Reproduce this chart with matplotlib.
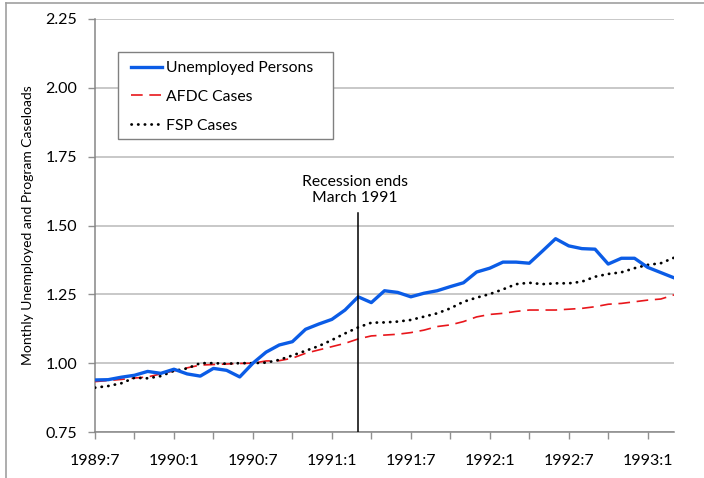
import matplotlib
matplotlib.use("Agg")
from matplotlib import pyplot as plt
from matplotlib.lines import Line2D
from matplotlib.patches import Rectangle
import numpy as np

plt.rcParams['font.family'] = ['Lato', 'DejaVu Sans']

# monthly series, 1989:7 .. 1993:3 (index 0 = 1989:7)
unemployed = [0.939, 0.940, 0.949, 0.956, 0.970, 0.963, 0.978, 0.961, 0.953, 0.981,
              0.974, 0.950, 1.000, 1.040, 1.066, 1.078, 1.123, 1.142, 1.159, 1.193,
              1.241, 1.220, 1.263, 1.257, 1.241, 1.254, 1.263, 1.278, 1.292, 1.331,
              1.345, 1.367, 1.367, 1.363, 1.407, 1.452, 1.426, 1.416, 1.414, 1.360,
              1.381, 1.381, 1.348, 1.329, 1.310]
afdc = [0.933, 0.937, 0.941, 0.946, 0.950, 0.961, 0.972, 0.983, 0.993, 0.995,
        0.997, 0.999, 1.000, 1.008, 1.009, 1.018, 1.036, 1.048, 1.060, 1.072,
        1.088, 1.099, 1.102, 1.105, 1.111, 1.120, 1.133, 1.139, 1.151, 1.168,
        1.177, 1.181, 1.188, 1.193, 1.193, 1.193, 1.196, 1.199, 1.205, 1.214,
        1.217, 1.223, 1.229, 1.233, 1.248]
fsp = [0.911, 0.917, 0.927, 0.947, 0.945, 0.953, 0.972, 0.981, 1.000, 1.000,
       0.998, 1.000, 1.000, 1.002, 1.012, 1.028, 1.045, 1.062, 1.084, 1.108,
       1.130, 1.147, 1.148, 1.151, 1.157, 1.169, 1.181, 1.199, 1.223, 1.238,
       1.251, 1.268, 1.287, 1.292, 1.287, 1.290, 1.290, 1.296, 1.314, 1.324,
       1.330, 1.345, 1.357, 1.363, 1.383]

tick_months = list(range(0, 45, 3))
tick_labels = ["1989:7", "", "1990:1", "", "1990:7", "", "1991:1", "", "1991:7", "",
               "1992:1", "", "1992:7", "", "1993:1"]
recession_end = 20  # 1991:3

months = np.arange(len(unemployed))

W, H = 704, 478
fig = plt.figure(figsize=(W/100, H/100), dpi=100)
ax = fig.add_axes([95/W, 46/H, 579/W, 413/H])

ax.plot(months, unemployed, color='#0b5ce6', lw=2.4, label="Unemployed Persons", zorder=4)
ax.plot(months, afdc, color='#e8161b', lw=1.2, dashes=(7, 4), label="AFDC Cases", zorder=3)
ax.plot(months, fsp, color='black', lw=2.0, linestyle=(0, (0.1, 2.3)),
        dash_capstyle='round', label="FSP Cases", zorder=3)

ax.plot([recession_end, recession_end], [0.75, 1.545], color='black', lw=1.1, zorder=5)
ax.text(recession_end - 0.25, 1.63, "Recession ends\nMarch 1991", ha='center', va='center',
        fontsize=11.3, linespacing=1.15)

ax.set_xlim(0, 44)
ax.set_ylim(0.75, 2.25)
ax.set_yticks(np.arange(0.75, 2.26, 0.25))
ax.set_yticklabels(["%.2f" % v for v in np.arange(0.75, 2.26, 0.25)], fontsize=11.5)
ax.set_xticks(tick_months)
ax.set_xticklabels(tick_labels, fontsize=11.5)
ax.tick_params(axis='x', length=5, width=1, color='#909090', pad=11)
ax.tick_params(axis='y', length=5, width=1, color='#909090', pad=8)
ax.grid(axis='y', color='#c4c4c4', lw=1.3)
ax.set_axisbelow(True)
for s in ['top', 'right']:
    ax.spines[s].set_visible(False)
for s in ['left', 'bottom']:
    ax.spines[s].set_color('#868686')
    ax.spines[s].set_linewidth(1.1)

ax.set_ylabel("Monthly Unemployed and Program Caseloads", fontsize=10)
ax.yaxis.set_label_coords(-0.105, 0.5)

# legend without its own frame, Excel-like box drawn separately
ax.add_patch(Rectangle((118/W, 1 - 139/H), 215/W, 87/H, transform=fig.transFigure,
                       fill=True, fc='white', ec='#808080', lw=1.0, zorder=6,
                       clip_on=False))
leg = ax.legend(loc='upper left', bbox_to_anchor=(131/W, 1 - 61/H),
                bbox_transform=fig.transFigure, fontsize=11.3, frameon=False,
                handlelength=2.0, handletextpad=0.2, labelspacing=0.94,
                borderpad=0, borderaxespad=0)
leg.set_zorder(7)

# outer chart frame
fig.add_artist(Line2D([6/W, 1], [1 - 3/H, 1 - 3/H], color='#a0a0a0', lw=1.2))
fig.add_artist(Line2D([6/W, 6/W], [0, 1 - 3/H], color='#a0a0a0', lw=1.2))

fig.savefig("out.png", dpi=100)
